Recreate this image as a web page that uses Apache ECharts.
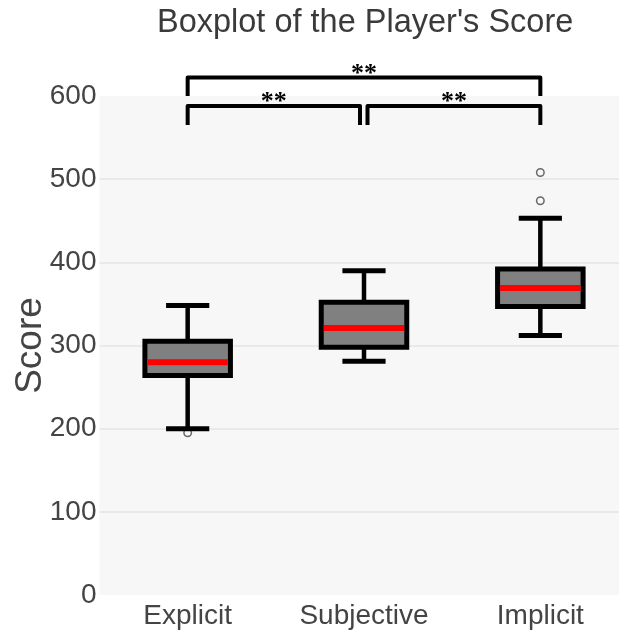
<!DOCTYPE html>
<html>
<head>
<meta charset="utf-8">
<title>Boxplot of the Player's Score</title>
<script src="https://cdn.jsdelivr.net/npm/echarts@6/dist/echarts.min.js"></script>
<style>
  html, body { margin: 0; padding: 0; background: #ffffff; }
  #chart { width: 619px; height: 634px; }
</style>
</head>
<body>
<div id="chart"></div>
<script>
// Score groups and their five-number summaries
const categories = ['Explicit', 'Subjective', 'Implicit'];
const lowerWhisker = [200, 281, 312];
const q1 = [264, 298, 347];
const median = [280, 321, 369];
const q3 = [305, 352, 392];
const upperWhisker = [348, 390, 453];

// Points beyond the whiskers (group index, score)
const outlierGroup = [0, 2, 2];
const outlierScore = [195, 474, 508];

// Pairwise significance marks: [from group, to group, label, row]
const comparisons = [
  [0, 1, '**', 0],
  [1, 2, '**', 0],
  [0, 2, '**', 1]
];

const yMin = 0, yMax = 600, yStep = 100;

const boxData = categories.map((c, i) => [i, lowerWhisker[i], q1[i], median[i], q3[i], upperWhisker[i]]);
const outlierData = outlierGroup.map((g, i) => [g, outlierScore[i]]);

const font = '"Liberation Sans", Arial, sans-serif';

function renderBox(params, api) {
  const x = api.value(0);
  const band = api.size([1, 0])[0];
  const boxW = band * 0.485;
  const capW = band * 0.245;
  const pLow = api.coord([x, api.value(1)]);
  const pQ1 = api.coord([x, api.value(2)]);
  const pMed = api.coord([x, api.value(3)]);
  const pQ3 = api.coord([x, api.value(4)]);
  const pHigh = api.coord([x, api.value(5)]);
  const cx = pMed[0];
  const border = 5;
  return {
    type: 'group',
    children: [
      { type: 'line', shape: { x1: cx, y1: pLow[1], x2: cx, y2: pHigh[1] },
        style: { stroke: '#000', lineWidth: 4.5 } },
      { type: 'line', shape: { x1: cx - capW / 2, y1: pLow[1], x2: cx + capW / 2, y2: pLow[1] },
        style: { stroke: '#000', lineWidth: 5 } },
      { type: 'line', shape: { x1: cx - capW / 2, y1: pHigh[1], x2: cx + capW / 2, y2: pHigh[1] },
        style: { stroke: '#000', lineWidth: 5 } },
      { type: 'rect', shape: { x: cx - boxW / 2, y: pQ3[1], width: boxW, height: pQ1[1] - pQ3[1] },
        style: { fill: '#808080', stroke: '#000', lineWidth: border } },
      { type: 'line', shape: { x1: cx - boxW / 2 + border / 2, y1: pMed[1], x2: cx + boxW / 2 - border / 2, y2: pMed[1] },
        style: { stroke: '#ff0000', lineWidth: 6 } }
    ]
  };
}

// Brackets sit above the plot area, one row per level
function renderBracket(params, api) {
  const from = api.value(0), to = api.value(1), row = api.value(3);
  const label = comparisons[params.dataIndex][2];
  const top = api.coord([0, yMax])[1];
  const barY = row === 0 ? top + 10 : top - 18.5;
  const footY = row === 0 ? top + 29 : top;
  let x1 = api.coord([from, yMax])[0];
  let x2 = api.coord([to, yMax])[0];
  // pull apart the ends of brackets sharing a group on the same row
  comparisons.forEach((c, j) => {
    if (j === params.dataIndex || c[3] !== row) return;
    if (c[1] === from) x1 += 3.5;
    if (c[0] === to) x2 -= 4;
  });
  return {
    type: 'group',
    children: [
      { type: 'polyline',
        shape: { points: [[x1, footY], [x1, barY], [x2, barY], [x2, footY]] },
        style: { stroke: '#000', lineWidth: 4, fill: null, lineJoin: 'round', lineCap: 'butt' } },
      { type: 'text',
        style: { x: (x1 + x2) / 2, y: barY + (row === 0 ? 9.5 : 10), text: label, align: 'center', verticalAlign: 'bottom',
                 fill: '#000', font: 'bold 26px "Liberation Serif", "Times New Roman", serif' } }
    ]
  };
}

const chart = echarts.init(document.getElementById('chart'), null, { renderer: 'canvas' });

chart.setOption({
  backgroundColor: '#ffffff',
  animation: false,
  graphic: [{
    type: 'text',
    left: 157,
    top: 7,
    style: { text: "Boxplot of the Player's Score", fill: '#3a3a3a', font: '32.5px ' + font }
  }],
  grid: {
    left: 99.5, top: 96, width: 529, height: 499,
    containLabel: false,
    outerBoundsMode: 'none',
    show: true, backgroundColor: '#f7f7f7', borderWidth: 0
  },
  xAxis: {
    type: 'category',
    data: categories,
    boundaryGap: true,
    axisLine: { show: false },
    axisTick: { show: false },
    splitLine: { show: false },
    axisLabel: { color: '#444', fontSize: 28, fontFamily: font, margin: 7 }
  },
  yAxis: {
    type: 'value',
    min: yMin, max: yMax, interval: yStep,
    name: 'Score',
    nameLocation: 'middle',
    nameRotate: 90,
    nameGap: 50,
    nameMoveOverlap: false,
    nameTextStyle: { color: '#444', fontSize: 37, fontFamily: font },
    axisLine: { show: false },
    axisTick: { show: false },
    axisLabel: { color: '#444', fontSize: 28, fontFamily: font, margin: 3 },
    splitLine: { show: true, showMinLine: false, showMaxLine: false, lineStyle: { color: '#e4e4e4', width: 1.5 } }
  },
  series: [
    {
      type: 'scatter',
      data: outlierData,
      symbol: 'circle',
      symbolSize: 7.5,
      z: 1,
      itemStyle: { color: '#f7f7f7', borderColor: '#444', borderWidth: 1.5 },
      silent: true
    },
    {
      type: 'custom',
      data: boxData,
      encode: { x: 0, y: [1, 2, 3, 4, 5] },
      renderItem: renderBox,
      z: 2,
      silent: true
    },
    {
      type: 'custom',
      data: comparisons.map(c => [c[0], c[1], yMax, c[3]]),
      encode: { x: [0, 1], y: 2 },
      renderItem: renderBracket,
      clip: false,
      z: 3,
      silent: true
    }
  ]
});
</script>
</body>
</html>
